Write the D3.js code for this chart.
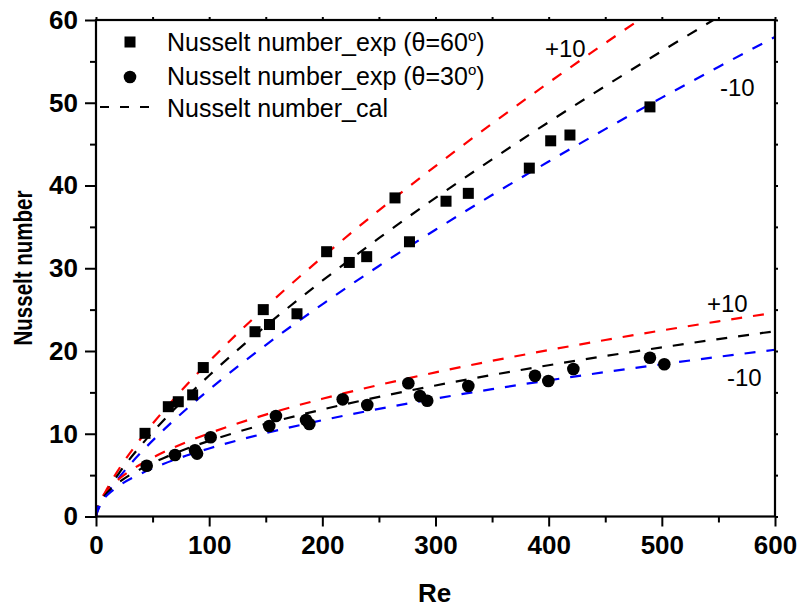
<!DOCTYPE html>
<html>
<head>
<meta charset="utf-8">
<script src="https://cdn.jsdelivr.net/npm/d3@7"></script>
<style>
  html, body { margin: 0; padding: 0; background: #fff; }
  svg { display: block; font-family: "Liberation Sans", Arial, sans-serif; }
</style>
</head>
<body>
<svg id="chart" width="801" height="612"></svg>
<script>
// Experimental Nusselt numbers, theta = 60 deg
const reExp60 = [43.3, 63.9, 72.7, 85.4, 94.8, 140.5, 147.8, 153.3, 177.6, 203.8, 223.8, 239.2, 264.2, 277, 309.3, 329, 382.9, 401.8, 418.8, 489.5];
const nuExp60 = [10.05, 13.27, 13.87, 14.7, 18.0, 22.33, 25.0, 23.2, 24.5, 32.0, 30.7, 31.4, 38.5, 33.2, 38.1, 39.05, 42.1, 45.4, 46.1, 49.5];

// Experimental Nusselt numbers, theta = 30 deg
const reExp30 = [44.8, 69.8, 87.5, 89.3, 101.3, 153.1, 159.0, 185.6, 188.5, 218.0, 239.7, 276.0, 286.3, 292.7, 329.0, 387.9, 399.7, 421.8, 489.5, 502.2];
const nuExp30 = [6.14, 7.43, 8.0, 7.6, 9.57, 10.94, 12.15, 11.66, 11.18, 14.16, 13.47, 16.1, 14.56, 13.99, 15.77, 17.0, 16.37, 17.82, 19.19, 18.4];

// Calculated Nusselt numbers along Re
const reCal = [0, 1, 2.5, 5, 10, 20, 40, 60, 80, 100, 150, 200, 250, 300, 350, 400, 450, 500, 550, 600];
const nuCal60 = [0, 0.56, 1.10, 1.85, 3.09, 5.16, 8.63, 11.66, 14.44, 17.04, 23.02, 28.49, 33.64, 38.50, 43.16, 47.66, 52.01, 56.24, 60.36, 64.39];
const nuCal30 = [0, 0.91, 1.45, 2.04, 2.89, 4.09, 5.78, 7.08, 8.18, 9.14, 11.19, 12.93, 14.45, 15.83, 17.10, 18.28, 19.39, 20.44, 21.44, 22.39];

// Deviation bands (percent) drawn around each calculated curve
const bands = [
  { pct: 10, color: "#ff0000" },
  { pct: 0, color: "#000000" },
  { pct: -10, color: "#0000ff" }
];

const xTicks = [0, 100, 200, 300, 400, 500, 600];
const yTicks = [0, 10, 20, 30, 40, 50, 60];

const svg = d3.select("#chart");
const padL = 96, padR = 775, padT = 20, padB = 516.5;

const x = d3.scaleLinear().domain([0, 600]).range([padL, padR]);
const y = d3.scaleLinear().domain([0, 60]).range([padB, padT]);

svg.append("defs").append("clipPath").attr("id", "plotClip")
  .append("rect").attr("x", padL).attr("y", padT)
  .attr("width", padR - padL).attr("height", padB - padT);

const plot = svg.append("g").attr("clip-path", "url(#plotClip)");

// Calculated curves with +/-10 % bands
const line = d3.line().x(d => x(d[0])).y(d => y(d[1])).curve(d3.curveMonotoneX);
[nuCal60, nuCal30].forEach(cal => {
  bands.forEach(b => {
    const pts = reCal.map((r, i) => [r, cal[i] * (1 + b.pct / 100)]);
    plot.append("path")
      .attr("d", line(pts))
      .attr("fill", "none")
      .attr("stroke", b.color)
      .attr("stroke-width", 2.2)
      .attr("stroke-dasharray", "11,11");
  });
});

// Experimental points
const sq = 11;
plot.append("g").selectAll("rect")
  .data(reExp60.map((r, i) => [r, nuExp60[i]]))
  .join("rect")
  .attr("x", d => x(d[0]) - sq / 2)
  .attr("y", d => y(d[1]) - sq / 2)
  .attr("width", sq).attr("height", sq)
  .attr("fill", "#000");

plot.append("g").selectAll("circle")
  .data(reExp30.map((r, i) => [r, nuExp30[i]]))
  .join("circle")
  .attr("cx", d => x(d[0]))
  .attr("cy", d => y(d[1]))
  .attr("r", 6.3)
  .attr("fill", "#000");

// Axes
const axisFont = g => g.selectAll("text")
  .attr("font-family", "'Liberation Sans', Arial, sans-serif")
  .attr("font-weight", "bold")
  .attr("font-size", 26)
  .attr("fill", "#000");

const xAxis = svg.append("g").attr("transform", `translate(0,${padB})`)
  .call(d3.axisBottom(x).tickValues(xTicks).tickFormat(d3.format("d")).tickSize(10).tickPadding(9));
xAxis.call(axisFont);
xAxis.select(".domain").remove();
xAxis.selectAll("line").attr("stroke-width", 2);

const xMinor = svg.append("g").attr("transform", `translate(0,${padB})`)
  .call(d3.axisBottom(x).tickValues(d3.range(50, 600, 100)).tickFormat("").tickSize(6));
xMinor.select(".domain").remove();
xMinor.selectAll("line").attr("stroke-width", 2);

const yAxis = svg.append("g").attr("transform", `translate(${padL},0)`)
  .call(d3.axisLeft(y).tickValues(yTicks).tickFormat(d3.format("d")).tickSize(11).tickPadding(7));
yAxis.call(axisFont);
yAxis.select(".domain").remove();
yAxis.selectAll("line").attr("stroke-width", 2);

const yMinor = svg.append("g").attr("transform", `translate(${padL},0)`)
  .call(d3.axisLeft(y).tickValues(d3.range(5, 60, 10)).tickFormat("").tickSize(6));
yMinor.select(".domain").remove();
yMinor.selectAll("line").attr("stroke-width", 2);

// Small ticks on the top and right edges
const topT = svg.append("g").attr("transform", `translate(0,${padT})`)
  .call(d3.axisTop(x).tickValues(d3.range(0, 601, 50)).tickFormat("").tickSize(3));
topT.select(".domain").remove();
topT.selectAll("line").attr("stroke-width", 2);
const rightT = svg.append("g").attr("transform", `translate(${padR},0)`)
  .call(d3.axisRight(y).tickValues(d3.range(0, 61, 5)).tickFormat("").tickSize(3));
rightT.select(".domain").remove();
rightT.selectAll("line").attr("stroke-width", 2);

// Frame
svg.append("rect")
  .attr("x", padL).attr("y", padT)
  .attr("width", padR - padL).attr("height", padB - padT)
  .attr("fill", "none").attr("stroke", "#000").attr("stroke-width", 2.2);

// Axis titles
svg.append("text")
  .attr("x", (padL + padR) / 2 - 1).attr("y", 602)
  .attr("text-anchor", "middle")
  .attr("font-weight", "bold").attr("font-size", 26)
  .text("Re");

svg.append("text")
  .attr("transform", "translate(32,268) rotate(-90)")
  .attr("text-anchor", "middle")
  .attr("font-weight", "bold").attr("font-size", 26)
  .attr("textLength", 155).attr("lengthAdjust", "spacingAndGlyphs")
  .text("Nusselt number");

// Legend
const lg = svg.append("g");
lg.append("rect").attr("x", 130 - sq / 2).attr("y", 42 - sq / 2).attr("width", sq).attr("height", sq).attr("fill", "#000");
lg.append("circle").attr("cx", 130).attr("cy", 77).attr("r", 6.3).attr("fill", "#000");
lg.append("line").attr("x1", 100).attr("x2", 160).attr("y1", 107).attr("y2", 107)
  .attr("stroke", "#000").attr("stroke-width", 2.2).attr("stroke-dasharray", "9,11");

const legendText = (yPos, main, angle) => {
  const t = lg.append("text").attr("x", 167).attr("y", yPos).attr("font-size", 25);
  t.append("tspan").text(main);
  if (angle) {
    t.append("tspan").text(" (θ=" + angle);
    t.append("tspan").attr("font-size", 15).attr("dy", -10).text("o");
    t.append("tspan").attr("dy", 10).text(")");
  }
};
legendText(51, "Nusselt number_exp", "60");
legendText(85, "Nusselt number_exp", "30");
legendText(117, "Nusselt number_cal", null);

// Band annotations
const ann = [
  { t: "+10", x: 545, y: 57 },
  { t: "-10", x: 720, y: 96 },
  { t: "+10", x: 707, y: 312 },
  { t: "-10", x: 727, y: 386 }
];
svg.append("g").selectAll("text").data(ann).join("text")
  .attr("x", d => d.x).attr("y", d => d.y)
  .attr("font-size", 24)
  .text(d => d.t);
</script>
</body>
</html>
